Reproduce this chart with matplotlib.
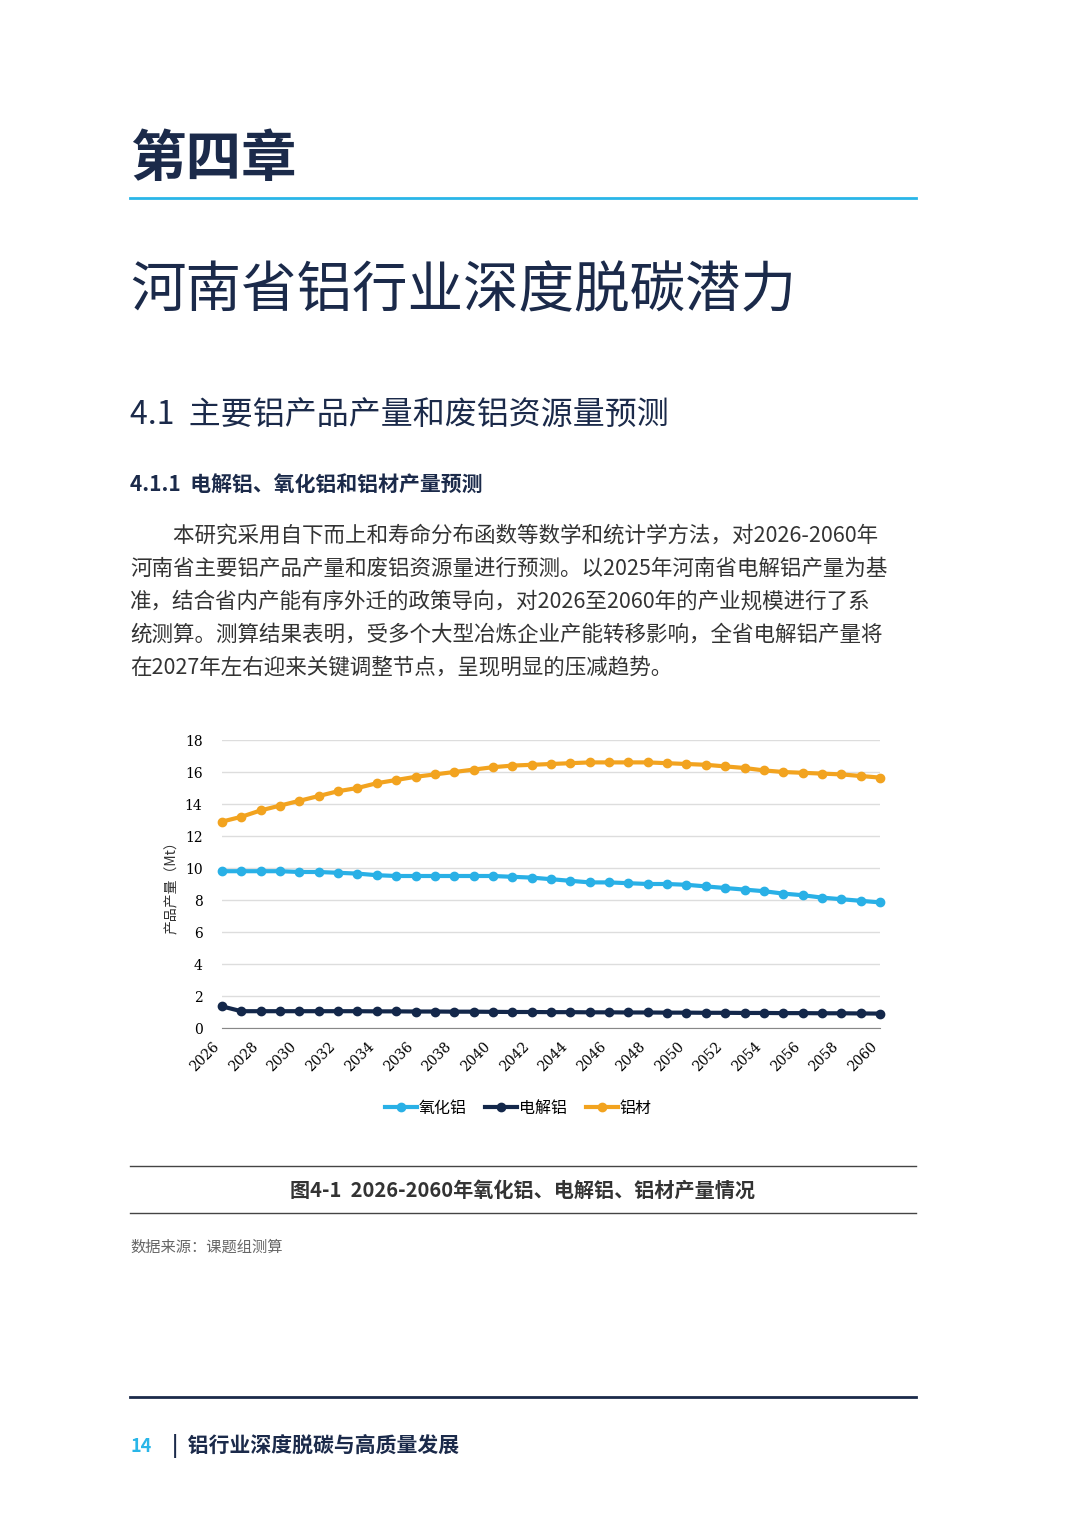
import matplotlib
matplotlib.use('Agg')
import matplotlib.pyplot as plt

plt.rcParams['font.family'] = ['Noto Sans CJK SC', 'DejaVu Sans']

years = list(range(2026, 2061))
alumina = [9.8, 9.8, 9.8, 9.8, 9.75, 9.75, 9.7, 9.65, 9.55, 9.5, 9.5, 9.5, 9.5, 9.5, 9.5,
           9.45, 9.4, 9.3, 9.2, 9.1, 9.1, 9.05, 9.0, 9.0, 8.95, 8.85, 8.75, 8.65, 8.55, 8.4,
           8.3, 8.15, 8.05, 7.95, 7.85]
electro = [1.35, 1.05, 1.05, 1.05, 1.05, 1.05, 1.05, 1.05, 1.04, 1.04, 1.03, 1.03, 1.02, 1.02, 1.01,
           1.0, 1.0, 0.99, 0.99, 0.98, 0.98, 0.97, 0.97, 0.96, 0.96, 0.95, 0.95, 0.94, 0.94, 0.93,
           0.93, 0.92, 0.92, 0.91, 0.9]
alu_mat = [12.9, 13.2, 13.6, 13.9, 14.2, 14.5, 14.8, 15.0, 15.3, 15.5, 15.7, 15.85, 16.0, 16.15, 16.3,
           16.4, 16.45, 16.5, 16.55, 16.6, 16.6, 16.6, 16.6, 16.55, 16.5, 16.45, 16.35, 16.25, 16.1, 16.0,
           15.95, 15.9, 15.85, 15.75, 15.65]
series_names = ['氧化铝', '电解铝', '铝材']
colors = ['#29b0e6', '#13274a', '#f2a31f']

W, H = 1080, 1527
fig = plt.figure(figsize=(W / 100, H / 100), dpi=100)
navy = '#1b2a4a'

def px(x, y):
    return x / W, 1 - y / H

# page header
fig.text(*px(130, 160), '第四章', fontsize=40, fontweight='bold', color=navy, va='center')
fig.add_artist(plt.Line2D([130 / W, 916 / W], [1 - 198 / H] * 2, color='#29b6e8', lw=2))
fig.text(*px(130, 292), '河南省铝行业深度脱碳潜力', fontsize=40, color=navy, va='center')
fig.text(*px(130, 415), '4.1  主要铝产品产量和废铝资源量预测', fontsize=23, color=navy, va='center')
fig.text(*px(130, 484), '4.1.1  电解铝、氧化铝和铝材产量预测', fontsize=15, fontweight='bold', color=navy, va='center')
para = ['　　本研究采用自下而上和寿命分布函数等数学和统计学方法，对2026-2060年',
        '河南省主要铝产品产量和废铝资源量进行预测。以2025年河南省电解铝产量为基',
        '准，结合省内产能有序外迁的政策导向，对2026至2060年的产业规模进行了系',
        '统测算。测算结果表明，受多个大型冶炼企业产能转移影响，全省电解铝产量将',
        '在2027年左右迎来关键调整节点，呈现明显的压减趋势。']
for i, line in enumerate(para):
    fig.text(*px(130, 536 + i * 33), line, fontsize=15.5, color='#333333', va='center')

# chart
ax = fig.add_axes([222 / W, 1 - 1028 / H, (880 - 222) / W, (1028 - 740) / H])
for vals, name, c in zip([alumina, electro, alu_mat], series_names, colors):
    ax.plot(years, vals, color=c, lw=3, marker='o', ms=6, label=name, clip_on=False)
ax.set_ylim(0, 18)
ax.set_xlim(2026, 2060)
ax.set_yticks(range(0, 19, 2))
ax.set_xticks(range(2026, 2061, 2))
ax.tick_params(axis='x', rotation=45, labelsize=10, length=0, pad=8)
ax.tick_params(axis='y', labelsize=10, length=0, pad=14)
for lab in ax.get_xticklabels():
    lab.set_family('DejaVu Serif')
    lab.set_ha('right')
for lab in ax.get_yticklabels():
    lab.set_family('DejaVu Serif')
ax.grid(axis='y', color='#dddddd', lw=1)
for s in ['top', 'right', 'left']:
    ax.spines[s].set_visible(False)
ax.spines['bottom'].set_color('#888888')
ax.set_ylabel('产品产量（Mt）', fontsize=10, color='#333333', labelpad=4)
ax.legend(loc='upper center', bbox_to_anchor=(0.45, -0.2), ncol=3, frameon=False,
          fontsize=11.5, handlelength=2.0, handletextpad=0.1, columnspacing=1.2)

# caption
fig.add_artist(plt.Line2D([130 / W, 916 / W], [1 - 1166 / H] * 2, color='#444444', lw=1))
fig.text(*px(523, 1190), '图4-1  2026-2060年氧化铝、电解铝、铝材产量情况', fontsize=14.5, fontweight='bold',
         color='#333333', ha='center', va='center')
fig.add_artist(plt.Line2D([130 / W, 916 / W], [1 - 1213 / H] * 2, color='#444444', lw=1))
fig.text(*px(130, 1247), '数据来源：课题组测算', fontsize=11, color='#666666', va='center')

# footer
fig.add_artist(plt.Line2D([130 / W, 916 / W], [1 - 1397 / H] * 2, color=navy, lw=2))
fig.text(*px(130, 1446), '14', fontsize=13, fontweight='bold', color='#29b6e8', va='center')
fig.text(*px(172, 1446), '|  铝行业深度脱碳与高质量发展', fontsize=15, fontweight='bold', color=navy, va='center')

fig.savefig('out.png', dpi=100)
